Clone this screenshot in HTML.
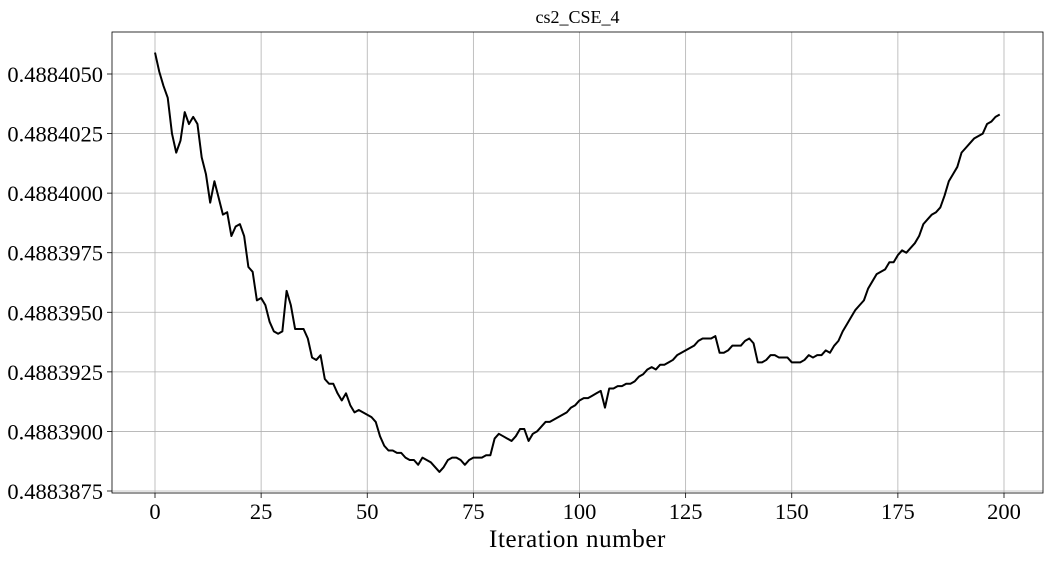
<!DOCTYPE html>
<html><head><meta charset="utf-8"><style>
body{margin:0;background:#fff;}
svg text{font-family:"Liberation Serif","DejaVu Serif",serif;fill:#000;}
</style></head><body>
<svg id="chart" width="1052" height="560"></svg>
<script>
const iterations = Array.from({length:200},(_,i)=>i);
const objectiveDigits = [4059,4051,4045,4040,4025,4017,4022,4034,4029,4032,4029,4015,4008,3996,4005,3998,3991,3992,3982,3986,
3987,3982,3969,3967,3955,3956,3953,3946,3942,3941,3942,3959,3953,3943,3943,3943,3939,3931,3930,3932,
3922,3920,3920,3916,3913,3916,3911,3908,3909,3908,3907,3906,3904,3898,3894,3892,3892,3891,3891,3889,
3888,3888,3886,3889,3888,3887,3885,3883,3885,3888,3889,3889,3888,3886,3888,3889,3889,3889,3890,3890,
3897,3899,3898,3897,3896,3898,3901,3901,3896,3899,3900,3902,3904,3904,3905,3906,3907,3908,3910,3911,
3913,3914,3914,3915,3916,3917,3910,3918,3918,3919,3919,3920,3920,3921,3923,3924,3926,3927,3926,3928,
3928,3929,3930,3932,3933,3934,3935,3936,3938,3939,3939,3939,3940,3933,3933,3934,3936,3936,3936,3938,
3939,3937,3929,3929,3930,3932,3932,3931,3931,3931,3929,3929,3929,3930,3932,3931,3932,3932,3934,3933,
3936,3938,3942,3945,3948,3951,3953,3955,3960,3963,3966,3967,3968,3971,3971,3974,3976,3975,3977,3979,
3982,3987,3989,3991,3992,3994,3999,4005,4008,4011,4017,4019,4021,4023,4024,4025,4029,4030,4032,4033];
const values = objectiveDigits.map(d=>0.488+d*1e-7);
const xTicks = [0,25,50,75,100,125,150,175,200];
const yTicks = [0.4883875,0.4883900,0.4883925,0.4883950,0.4883975,0.4884000,0.4884025,0.4884050];
const yTickLabels = ["0.4883875","0.4883900","0.4883925","0.4883950","0.4883975","0.4884000","0.4884025","0.4884050"];

const svg=document.getElementById('chart');
const NS='http://www.w3.org/2000/svg';
const L=112,R=1043,T=32,B=493;
const xs=v=>155+(v-0)*(1004-155)/200;
const ys=v=>491-(v-0.4883875)*(491-74)/(0.4884050-0.4883875);
function mk(tag,attrs,txt){const e=document.createElementNS(NS,tag);for(const k in attrs)e.setAttribute(k,attrs[k]);if(txt!==undefined)e.textContent=txt;svg.appendChild(e);return e;}

xTicks.forEach(t=>{
  const g=mk('line',{x1:xs(t),x2:xs(t),y1:T,y2:B,stroke:'#b0b0b0','stroke-width':0.8});
  
  
  const tk=mk('line',{x1:xs(t),x2:xs(t),y1:B,y2:B+5,stroke:'#000','stroke-width':0.8});
  
  
  const lb=mk('text',{x:xs(t),y:B+26,'font-size':22.5,'text-anchor':'middle'},String(t));
  
  
});
yTicks.forEach((t,i)=>{
  const g=mk('line',{x1:L,x2:R,y1:ys(t),y2:ys(t),stroke:'#b0b0b0','stroke-width':0.8});
  
  
  const tk=mk('line',{x1:L-5,x2:L,y1:ys(t),y2:ys(t),stroke:'#000','stroke-width':0.8});
  
  
  const lb=mk('text',{x:L-9,y:ys(t)+8,'font-size':22.5,'text-anchor':'end'},yTickLabels[i]);
  
  
});
const frame=mk('rect',{x:L,y:T,width:R-L,height:B-T,fill:'none',stroke:'#000','stroke-width':0.8});



const d=values.map((v,i)=>(i?'L':'M')+xs(iterations[i]).toFixed(2)+','+ys(v).toFixed(2)).join(' ');
const line=mk('path',{d:d,fill:'none',stroke:'#000','stroke-width':2,'stroke-linejoin':'round'});



const title=mk('text',{x:(L+R)/2,y:23,'font-size':18,'text-anchor':'middle'},'cs2_CSE_4');


const xl=mk('text',{x:(L+R)/2,y:547,'font-size':25,'text-anchor':'middle','letter-spacing':0.6},'Iteration number');


</script>
</body></html>
